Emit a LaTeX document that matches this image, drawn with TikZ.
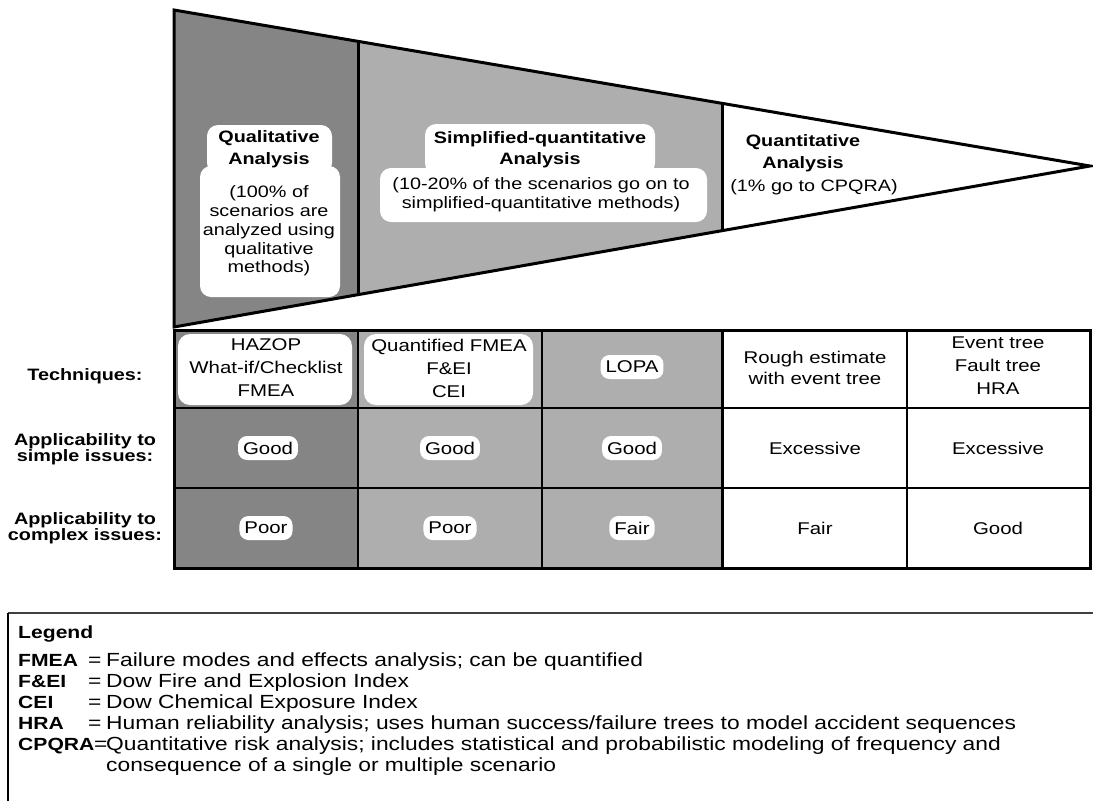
\documentclass[tikz,border=0pt]{standalone}
\usepackage{fontspec}
\setmainfont[FakeStretch=1.2]{Liberation Sans}
\definecolor{darkg}{HTML}{858585}
\definecolor{lightg}{HTML}{AEAEAE}
\begin{document}
\begin{tikzpicture}[x=1pt,y=-1pt,
  outline/.style={line width=3pt, line join=miter},
  gridline/.style={line width=1.8pt},
  wshape/.style={fill=white, rounded corners=11pt},
  tt/.style={font=\fontsize{16.5}{18.8}\selectfont, align=center, inner sep=0pt},
  ttb/.style={font=\bfseries\fontsize{16.5}{21.5}\selectfont, align=center, inner sep=0pt},
  cell/.style={font=\fontsize{17}{23}\selectfont, align=center, inner sep=0pt},
  blob/.style={font=\fontsize{17}{20}\selectfont, fill=white, rounded corners=9pt, inner xsep=5pt, inner ysep=3pt, minimum height=24pt},
  side/.style={font=\bfseries\fontsize{16.5}{16}\selectfont, align=center, inner sep=0pt},
  leg/.style={font=\fontsize{19}{21}\selectfont, anchor=base west, inner sep=0pt},
  legb/.style={font=\bfseries\fontsize{17.6}{21}\selectfont, anchor=base west, inner sep=0pt}
]
\useasboundingbox (0,0) rectangle (1093,801);
\fill[white] (0,0) rectangle (1093,801);

% ---------- funnel ----------
\coordinate (tl) at (174,10);
\coordinate (bl) at (174,327);
\coordinate (apex) at (1090,166);
\coordinate (d1t) at (358,41.3);
\coordinate (d1b) at (358,294.7);
\coordinate (d2t) at (722,103.3);
\coordinate (d2b) at (722,230.7);

\fill[darkg] (tl) -- (d1t) -- (d1b) -- (bl) -- cycle;
\fill[lightg] (d1t) -- (d2t) -- (d2b) -- (d1b) -- cycle;

% white text areas
\fill[wshape] (207,125) rectangle (332,174);
\fill[wshape] (200,166) rectangle (340,297);
\fill[wshape] (425,124) rectangle (655,174);
\fill[wshape] (380,168) rectangle (707,222);

\draw[outline] (tl) -- (apex) -- (bl) -- cycle;
\draw[outline] (d1t) -- (d1b);
\draw[outline] (d2t) -- (d2b);

\node[ttb] (qlt) at (269,149) {Qualitative\\Analysis};
\node[tt] (qlb) at (269,231) {(100\% of\\scenarios are\\analyzed using\\qualitative\\methods)};
\node[ttb] (sqt) at (540,149.5) {Simplified-quantitative\\Analysis};
\node[tt] (sqb) at (541,195) {(10-20\% of the scenarios go on to\\simplified-quantitative methods)};
\node[ttb] (qnt) at (803,153) {Quantitative\\Analysis};
\node[tt] (qnb) at (814,187) {(1\% go to CPQRA)};

% ---------- table ----------
\fill[darkg] (174,330) rectangle (358,568);
\fill[lightg] (358,330) rectangle (722,568);
\fill[white, rounded corners=12pt] (178,334) rectangle (352,405);
\fill[white, rounded corners=12pt] (364,334) rectangle (533,405);

\draw[gridline] (174,408) -- (1090,408);
\draw[gridline] (174,488) -- (1090,488);
\draw[gridline] (358,330) -- (358,568);
\draw[gridline] (542,330) -- (542,568);
\draw[outline] (722,330) -- (722,568);
\draw[gridline] (907,330) -- (907,568);
\draw[outline] (174,330) rectangle (1090,568);

\node[side] (lt) at (85,376) {Techniques:};
\node[side] (ls) at (85,449.5) {Applicability to\\simple issues:};
\node[side] (lc) at (85,528.5) {Applicability to\\complex issues:};

\node[cell] (c11) at (266,368) {HAZOP\\What-if/Checklist\\FMEA};
\node[cell] (c12) at (449,368) {Quantified FMEA\\F\&EI\\CEI};
\node[blob] (c13) at (632,367) {LOPA};
\node[cell, font=\fontsize{17}{21}\selectfont] (c14) at (815,368) {Rough estimate\\with event tree};
\node[cell] (c15) at (998,366) {Event tree\\Fault tree\\HRA};

\node[blob] (c21) at (268,448) {Good};
\node[blob] (c22) at (450,448) {Good};
\node[blob] (c23) at (632,448) {Good};
\node[cell] (c24) at (815,448) {Excessive};
\node[cell] (c25) at (998,448) {Excessive};

\node[blob] (c31) at (266,528) {Poor};
\node[blob] (c32) at (450,528) {Poor};
\node[blob] (c33) at (632,528) {Fair};
\node[cell] (c34) at (815,528) {Fair};
\node[cell] (c35) at (998,528) {Good};

% ---------- legend ----------
\draw[line width=1.5pt, black!75] (8,613) -- (1093,613);
\draw[line width=2.5pt] (8,613) -- (8,801);

\node[legb] (lg) at (18,638) {Legend};
\node[legb] (a1) at (18,666) {FMEA};
\node[leg] (e1) at (88,666) {=};
\node[leg] (t1) at (106,666) {Failure modes and effects analysis; can be quantified};
\node[legb] (a2) at (18,687) {F\&EI};
\node[leg] (e2) at (88,687) {=};
\node[leg] (t2) at (106,687) {Dow Fire and Explosion Index};
\node[legb] (a3) at (18,708) {CEI};
\node[leg] (e3) at (88,708) {=};
\node[leg] (t3) at (106,708) {Dow Chemical Exposure Index};
\node[legb] (a4) at (18,729) {HRA};
\node[leg] (e4) at (88,729) {=};
\node[leg] (t4) at (106,729) {Human reliability analysis; uses human success/failure trees to model accident sequences};
\node[legb] (a5) at (18,750) {CPQRA};
\node[leg] (e5) at (94,750) {=};
\node[leg] (t5) at (106,750) {Quantitative risk analysis; includes statistical and probabilistic modeling of frequency and};
\node[leg] (t6) at (106,771) {consequence of a single or multiple scenario};
\end{tikzpicture}
\end{document}
